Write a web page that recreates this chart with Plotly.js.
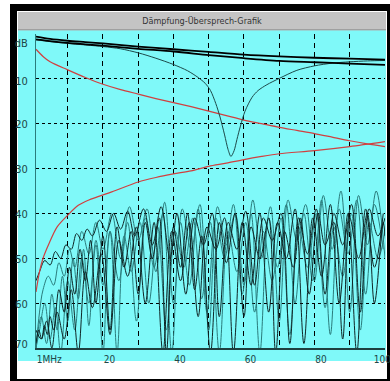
<!DOCTYPE html>
<html>
<head>
<meta charset="utf-8">
<script src="https://cdn.plot.ly/plotly-3.0.1.min.js"></script>
<style>html,body{margin:0;padding:0;background:#fff;}#chart{width:390px;height:381px;}</style>
</head>
<body>
<div id="chart"></div>
<script>
// ---- data (MHz, dB) ----
const chartTitle = "Dämpfung-Übersprech-Grafik";
const xTickVals = [1, 20, 40, 60, 80, 96.6];
const xTickText = ["1MHz", "20", "40", "60", "80", "100"];
const yTickVals = [2.1, 10.4, 20.2, 30.1, 40.2, 50.2, 60.2, 69.2];
const yTickText = ["dB", "10", "20", "30", "40", "50", "60", "70"];
const xGrid = [10, 20, 30, 40, 50, 60, 70, 80, 90];
const yGrid = [10, 20, 30, 40, 50, 60];

// attenuation (two pairs)
const attA_x = [1, 5, 10, 15, 20, 30, 40, 50, 60, 70, 80, 90, 100];
const attA_y = [0.6, 1.1, 1.5, 1.8, 2.1, 2.8, 3.4, 4.0, 4.6, 5.0, 5.3, 5.5, 5.7];
const attB_x = [1, 5, 10, 15, 20, 30, 40, 50, 60, 70, 80, 90, 100];
const attB_y = [1.2, 1.6, 2.0, 2.3, 2.6, 3.3, 3.9, 4.7, 5.4, 6.0, 6.3, 6.6, 6.9];
// attenuation with resonance dip
const dip_x = [1, 5, 10, 20, 25, 30, 35, 40, 44, 47, 49, 50.5, 52, 53.2, 54.5, 55.5, 56.3, 57.2, 58, 59, 60.3, 62.3, 64, 66.5, 70, 75, 80, 85, 90, 95, 100];
const dip_y = [1.3, 1.7, 2.1, 2.8, 3.3, 4.2, 5.4, 6.8, 8.2, 9.7, 11, 12.6, 15.5, 18.5, 22.5, 25.8, 27.3, 26, 23.5, 20.5, 17.2, 14.1, 12.6, 11.3, 9.9, 8.1, 7.1, 6.5, 6.2, 6.0, 5.9];
// red limit curves
const redDown_x = [1, 3, 5, 10, 15, 20, 25, 30, 35, 40, 45, 50, 55, 60, 65, 70, 75, 80, 85, 90, 95, 100];
const redDown_y = [3.4, 5.0, 6.2, 8.0, 9.7, 11.2, 12.4, 13.4, 14.4, 15.3, 16.2, 17.2, 18.2, 19.2, 20.0, 20.8, 21.5, 22.2, 23.0, 23.8, 24.5, 25.1];
const redUp_x = [1, 2, 3, 4.7, 7, 10, 13, 16, 22.5, 30, 35, 40, 45, 50, 55, 60, 65, 70, 80, 90, 100];
const redUp_y = [57.5, 53, 50, 46.7, 43, 40.4, 38.2, 37, 35.2, 33, 32, 31.2, 30.5, 29.5, 28.8, 28.0, 27.3, 26.7, 26, 25.1, 24.0];

// crosstalk curves
const nA_x = [1, 2, 3.5, 5, 6.5, 8, 9.5, 11, 12.5, 14, 15.5, 17, 19, 21, 23, 25, 27, 29, 31.5, 34, 36.5, 39, 41, 43.5, 46, 48.5, 51, 53, 55.5, 58, 60.5, 63, 65.5, 68, 70.5, 73, 75.5, 78, 80.5, 83, 85.5, 88, 90.5, 93, 95.5, 98, 100];
const nA_y = [55, 53, 50.5, 51.5, 48.5, 50, 47, 48, 44.5, 46, 43.5, 45, 41.5, 44, 40, 43.5, 39.5, 45, 39, 47, 38.5, 50, 40, 58, 41, 47, 40, 63, 42, 48, 39.5, 56, 41, 46, 40, 69, 41, 49, 39, 58, 40, 47, 38, 62, 39, 45, 41];
const nB_x = [1, 2, 3, 4.5, 6, 7.5, 9, 10.5, 12, 14, 16, 18, 20, 22.5, 25, 27.5, 30, 32.5, 35, 37.5, 40, 42.5, 45, 47.5, 50, 52.5, 55, 57.5, 60, 62.5, 65, 67.5, 70, 72.5, 75, 77.5, 80, 82.5, 85, 87.5, 90, 92.5, 95, 97.5, 100];
const nB_y = [70, 62, 57, 54, 56, 51, 54, 48, 52, 44, 49, 42, 48, 40, 50, 38.5, 46, 39, 53, 37.5, 60, 39, 48, 38, 66, 38.5, 47, 40, 56, 37, 50, 38.5, 64, 37, 46, 38, 55, 36, 48, 35, 62, 36, 47, 35, 50];
const nC_x = [1, 1.8, 2.6, 3.4, 4.2, 5, 6, 7.5, 9, 10.5, 12, 13.5, 15, 16.5, 18, 20, 22, 24, 26, 28, 30, 32, 34, 36, 38, 40, 42, 44, 46, 48, 50.5, 53, 55, 57.5, 60, 62, 64.5, 67, 69, 71.5, 74, 76, 78.5, 81, 83, 85.5, 88, 90, 92.5, 95, 97, 99.5, 100];
const nC_y = [69, 66, 68, 65, 67, 63, 66, 57, 62, 52, 58, 48, 55, 46, 60, 45, 66, 43, 52, 44, 58, 42, 50, 41, 71, 43, 52, 40, 57, 45, 71, 42, 51, 40, 63, 43, 50, 41, 71, 44, 52, 41, 58, 40, 47, 42, 68, 41, 50, 40, 60, 42, 45];
const nD_x = [1, 2.5, 4, 5.5, 7, 8.5, 10, 11.5, 13, 14.5, 16, 18, 20, 22, 24, 26, 28, 30.5, 33, 35.5, 38, 40.5, 43, 45.5, 48, 50.5, 53, 55.5, 58, 60.5, 63, 65.5, 68, 70.5, 73, 75.5, 78, 80.5, 83, 85.5, 88, 90.5, 93, 95.5, 98, 100];
const nD_y = [70, 63, 69, 58, 66, 54, 64, 50, 59, 48, 65, 46, 56, 44, 71, 45, 53, 42, 60, 43, 66, 44, 52, 41, 59, 42, 71, 44, 53, 42, 62, 44, 55, 41, 67, 43, 52, 40, 61, 43, 54, 40, 66, 42, 50, 44];
const nE_x = [1, 2, 3.5, 5, 6.5, 8, 10, 12, 14, 16, 18, 20, 22, 24.5, 27, 29.5, 32, 34.5, 37, 39.5, 42, 44.5, 47, 49.5, 52, 54.5, 57, 59.5, 62, 64.5, 67, 69.5, 72, 74.5, 77, 79.5, 82, 84.5, 87, 89.5, 92, 94.5, 97, 99.5];
const nE_y = [70, 66, 60, 68, 61, 71, 55, 66, 50, 60, 47, 71, 44, 55, 42, 64, 41, 52, 40, 71, 42, 56, 39, 62, 41, 50, 38, 58, 40, 71, 41, 52, 38, 60, 40, 55, 37, 67, 39, 49, 37, 58, 38, 48];
const nF_x = [1, 2.5, 4, 5.5, 7, 9, 11, 13, 15, 17, 19.5, 22, 24.5, 27, 29.5, 32, 34.5, 37, 39.5, 42, 44.5, 47, 49.5, 52, 54.5, 57, 59.5, 62, 64.5, 67, 69.5, 72, 74.5, 77, 79.5, 82, 84.5, 87, 89.5, 92, 94.5, 97, 99.5];
const nF_y = [66, 68, 64, 70, 62, 68, 57, 71, 53, 61, 49, 67, 46, 54, 43, 60, 42, 71, 44, 55, 42, 63, 43, 48, 41, 71, 42, 56, 40, 62, 42, 50, 39, 69, 41, 54, 38, 60, 40, 71, 39, 52, 40];

// ---- styling ----
const TEAL = '#2a7c7c', DARK = '#0f2626', RED = '#d04040', CYAN = '#7ff9f9';
const FONT = 'DejaVu Sans Condensed, Liberation Sans Narrow, Arial Narrow, sans-serif';
function noisy(x, y, c) { return {x: x, y: y, xaxis: 'x', yaxis: 'y', mode: 'lines', line: {shape: 'spline', smoothing: 1, color: c, width: 1}, hoverinfo: 'skip'}; }
function smooth(x, y, c, w) { return {x: x, y: y, xaxis: 'x2', yaxis: 'y2', mode: 'lines', line: {shape: 'spline', smoothing: 0.8, color: c, width: w}, hoverinfo: 'skip'}; }

const traces = [
  noisy(nE_x, nE_y, TEAL), noisy(nD_x, nD_y, TEAL), noisy(nB_x, nB_y, TEAL),
  noisy(nF_x, nF_y, DARK), noisy(nC_x, nC_y, DARK), noisy(nA_x, nA_y, DARK),
  smooth(redDown_x, redDown_y, RED, 1.2), smooth(redUp_x, redUp_y, RED, 1.2),
  smooth(dip_x, dip_y, '#1d4a4a', 1),
  smooth(attA_x, attA_y, '#000', 1.8), smooth(attB_x, attB_y, '#000', 1.8)
];

// plot area pixels: x 36..385, y 34..348
const L = 36, R = 385, T = 34, B = 348;
const px = v => (v - L) / (R - L), py = v => (B - v) / (B - T);
const shapes = [
  {type: 'rect', xref: 'paper', yref: 'paper', x0: px(10), x1: px(391), y0: py(4), y1: py(382), fillcolor: '#000', line: {width: 0}, layer: 'below'},
  {type: 'rect', xref: 'paper', yref: 'paper', x0: px(17), x1: px(387), y0: py(11), y1: py(379), fillcolor: '#fff', line: {width: 0}, layer: 'below'},
  {type: 'rect', xref: 'paper', yref: 'paper', x0: px(18), x1: px(386), y0: py(12), y1: py(29.5), fillcolor: '#c4c4c4', line: {width: 0}, layer: 'below'},
  {type: 'rect', xref: 'paper', yref: 'paper', x0: px(18), x1: px(386), y0: py(29.5), y1: py(30.5), fillcolor: '#606060', line: {width: 0}, layer: 'below'},
  {type: 'rect', xref: 'paper', yref: 'paper', x0: px(18), x1: px(386), y0: py(30.5), y1: py(361), fillcolor: CYAN, line: {width: 0}, layer: 'below'}
];

const layout = {
  width: 390, height: 381,
  margin: {l: L, r: 390 - R, t: T, b: 381 - B, pad: 0},
  paper_bgcolor: '#fff', plot_bgcolor: 'rgba(0,0,0,0)',
  showlegend: false,
  title: {text: chartTitle, x: 202 / 390, xref: 'container', xanchor: 'center', y: 1 - 21 / 381, yref: 'container', yanchor: 'middle',
          font: {family: FONT, size: 9, color: '#333'}},
  font: {family: FONT, size: 11, color: '#1e4646'},
  xaxis: {range: [1, 100], tickvals: xTickVals, ticktext: xTickText, ticks: '', showgrid: false, zeroline: false,
          showline: true, linecolor: '#1e4040', linewidth: 1.5, ticklabelposition: 'outside right', ticklabeloverflow: 'allow',
          ticklabelstandoff: 1, fixedrange: true, tickfont: {family: FONT, size: 10, color: '#1e4646'}},
  xaxis2: {range: [1, 100], overlaying: 'x', anchor: 'y2', side: 'bottom', tickvals: xGrid, showticklabels: false, ticks: '', showgrid: true,
           gridcolor: '#000', griddash: '5px,4px', gridwidth: 1, zeroline: false, showline: false, fixedrange: true},
  yaxis: {range: [70, 0], tickvals: yTickVals, ticktext: yTickText, ticks: '', showgrid: false, zeroline: false,
          showline: true, linecolor: '#2a7c7c', linewidth: 1, ticklabelstandoff: 5, fixedrange: true,
          tickfont: {family: FONT, size: 11, color: '#1e4646'}},
  yaxis2: {range: [70, 0], overlaying: 'y', anchor: 'x2', side: 'left', tickvals: yGrid, showticklabels: false, ticks: '', showgrid: true,
           gridcolor: '#000', griddash: '3px,3px', gridwidth: 1, zeroline: false, showline: false, fixedrange: true},
  shapes: shapes
};

Plotly.newPlot('chart', traces, layout, {staticPlot: true, displayModeBar: false});
</script>
</body>
</html>
